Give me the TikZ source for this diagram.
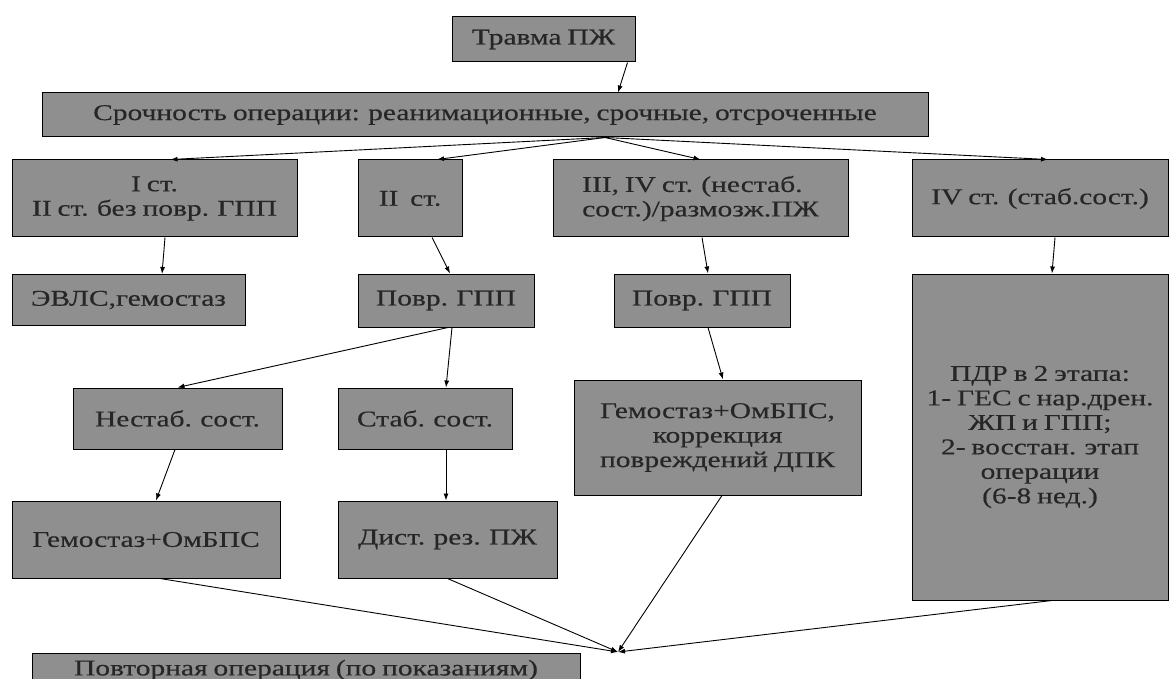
\documentclass[tikz,border=0pt]{standalone}
\usepackage{fontspec}
\setmainfont{Liberation Serif}[FakeStretch=1.31,FakeBold=0.4,WordSpace=0.8]
\usetikzlibrary{arrows.meta}
\definecolor{boxgray}{RGB}{143,143,143}
\tikzset{
  box/.style={draw=black, line width=1pt, fill=boxgray, inner sep=2pt, align=center,
    font=\fontsize{22.5}{24.5}\selectfont, text=black!85},
  conn/.style={draw=black, line width=0.9pt, -{Latex[length=7pt,width=5pt]}}
}
\begin{document}
\begin{tikzpicture}[x=1pt,y=-1pt]
\useasboundingbox (0,0) rectangle (1170,679);
\clip (0,0) rectangle (1170,679);
\fill[white] (0,0) rectangle (1170,679);
% row 1-2
\node[box, minimum width=183pt, minimum height=45pt] (trauma) at (543.5,39.5) {Травма ПЖ};
\node[box, minimum width=886pt, minimum height=44pt] (urg) at (485,115) {Срочность операции: реанимационные, срочные, отсроченные};
% row 3
\node[box, minimum width=285pt, minimum height=77pt] (s1) at (154.5,198.5) {I ст.\\II ст. без повр. ГПП};
\node[box, minimum width=104pt, minimum height=77pt] (s2) at (410,198.5) {II~ ст.};
\node[box, minimum width=295pt, minimum height=77pt, align=left] (s3) at (700.5,198.5) {III, IV ст. (нестаб.\\сост.)/размозж.ПЖ};
\node[box, minimum width=256pt, minimum height=77pt] (s4) at (1040,198.5) {IV ст. (стаб.сост.)};
% row 4
\node[box, minimum width=233pt, minimum height=51pt] (evls) at (128.5,300) {ЭВЛС,гемостаз};
\node[box, minimum width=176pt, minimum height=53pt] (gpp1) at (446,300.5) {Повр. ГПП};
\node[box, minimum width=176pt, minimum height=53pt] (gpp2) at (702,300.5) {Повр. ГПП};
\node[box, minimum width=256pt, minimum height=326pt] (pdr) at (1040,437) {ПДР в 2 этапа:\\1- ГЕС с нар.дрен.\\ЖП и ГПП;\\2- восстан. этап\\операции\\(6-8 нед.)};
% row 5
\node[box, minimum width=209pt, minimum height=61pt] (unst) at (177.5,418.5) {Нестаб. сост.};
\node[box, minimum width=174pt, minimum height=61pt] (st) at (425,418.5) {Стаб. сост.};
\node[box, minimum width=287pt, minimum height=115pt] (hem2) at (717.5,437.5) {Гемостаз+ОмБПС,\\коррекция\\повреждений ДПК};
% row 6
\node[box, minimum width=268pt, minimum height=77pt] (hem1) at (146,539.5) {Гемостаз+ОмБПС};
\node[box, minimum width=219pt, minimum height=77pt] (dist) at (447.5,539.5) {Дист. рез. ПЖ};
% bottom
\node[box, minimum width=548pt, minimum height=34pt] (rep) at (306,670) {Повторная операция (по показаниям)};
\coordinate (conv) at (618,652);
% connectors
\draw[conn] ([xshift=84pt]trauma.south) -- ([xshift=133pt]urg.north);
\draw[conn] ([xshift=120pt]urg.south) -- ([xshift=16pt]s1.north);
\draw[conn] ([xshift=120pt]urg.south) -- ([xshift=27pt]s2.north);
\draw[conn] ([xshift=120pt]urg.south) -- (s3.north);
\draw[conn] ([xshift=120pt]urg.south) -- ([xshift=8pt]s4.north);
\draw[conn] ([xshift=10.5pt]s1.south) -- ([xshift=33.5pt]evls.north);
\draw[conn] ([xshift=22pt]s2.south) -- ([xshift=4pt]gpp1.north);
\draw[conn] ([xshift=1.5pt]s3.south) -- ([xshift=6pt]gpp2.north);
\draw[conn] ([xshift=15pt]s4.south) -- ([xshift=12pt]pdr.north);
\draw[conn] ([xshift=2pt]gpp1.south) -- (unst.north);
\draw[conn] ([xshift=6pt]gpp1.south) -- ([xshift=21pt]st.north);
\draw[conn] ([xshift=6pt]gpp2.south) -- ([xshift=5.5pt]hem2.north);
\draw[conn] ([xshift=-2.5pt]unst.south) -- ([xshift=10pt]hem1.north);
\draw[conn] ([xshift=21pt]st.south) -- ([xshift=-1.5pt]dist.north);
\draw[conn] ([xshift=14pt]hem1.south) -- (conv);
\draw[conn] (dist.south) -- (conv);
\draw[conn] ([xshift=4.5pt]hem2.south) -- (conv);
\draw[conn] ([xshift=12pt]pdr.south) -- (conv);
\end{tikzpicture}
\end{document}
